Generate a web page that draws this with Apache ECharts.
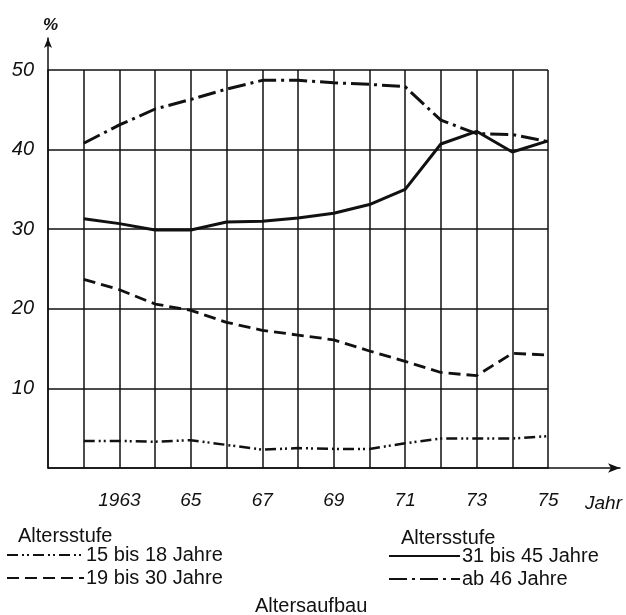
<!DOCTYPE html>
<html>
<head>
<meta charset="utf-8">
<script src="https://cdn.jsdelivr.net/npm/echarts@6/dist/echarts.min.js"></script>
<style>
  html, body { margin: 0; padding: 0; background: #fff; }
  #chart { width: 626px; height: 615px; }
</style>
</head>
<body>
<div id="chart"></div>
<script>
// Altersaufbau, Anteile in %
const years = [1962, 1963, 1964, 1965, 1966, 1967, 1968, 1969, 1970, 1971, 1972, 1973, 1974, 1975]
const age15to18 = [3.4, 3.4, 3.3, 3.5, 2.9, 2.3, 2.5, 2.4, 2.4, 3.1, 3.7, 3.7, 3.7, 4.0]
const age19to30 = [23.7, 22.4, 20.6, 19.8, 18.3, 17.3, 16.7, 16.1, 14.7, 13.4, 12.0, 11.6, 14.4, 14.2]
const age31to45 = [31.3, 30.7, 29.9, 29.9, 30.9, 31.0, 31.4, 32.0, 33.1, 35.0, 40.7, 42.3, 39.7, 41.1]
const age46plus = [40.8, 43.1, 45.1, 46.3, 47.6, 48.7, 48.7, 48.4, 48.2, 47.9, 43.7, 42.0, 41.9, 41.0]
const seriesNames = ['15 bis 18 Jahre', '19 bis 30 Jahre', '31 bis 45 Jahre', 'ab 46 Jahre']

const ink = '#111'
const numFont = { fontFamily: 'Liberation Sans', fontStyle: 'italic', color: ink }
const textFont = { fontFamily: 'Liberation Sans', fontSize: 20, fontWeight: 'normal', color: ink }

function pairs(values) {
  return years.map((y, i) => [y, values[i]])
}

function lineSeries(name, values, type, width) {
  return {
    name: name,
    type: 'line',
    data: pairs(values),
    symbol: 'none',
    silent: true,
    lineStyle: { color: ink, width: width, type: type },
    itemStyle: { color: ink }
  }
}

const legendBase = {
  orient: 'vertical',
  itemHeight: 14,
  itemGap: 3,
  padding: 0,
  selectedMode: false,
  itemStyle: { opacity: 0 },
  textStyle: { ...textFont, padding: [0, 0, 0, -3] }
}

const chart = echarts.init(document.getElementById('chart'))

chart.setOption({
  animation: false,
  backgroundColor: '#fff',
  title: [
    { text: '%', left: 38, top: 12, textStyle: { ...numFont, fontSize: 17, fontWeight: 'bold' } },
    { text: 'Jahr', left: 580, top: 489, textStyle: { ...numFont, fontSize: 19, fontWeight: 'normal' } },
    { text: 'Altersstufe', left: 13, top: 521, textStyle: textFont },
    { text: 'Altersstufe', left: 396, top: 523, textStyle: textFont },
    { text: 'Altersaufbau', left: 250, top: 591, textStyle: textFont }
  ],
  legend: [
    { ...legendBase, data: seriesNames.slice(0, 2), left: 6, top: 545, itemWidth: 77 },
    { ...legendBase, data: seriesNames.slice(2), left: 388, top: 546, itemWidth: 71 }
  ],
  grid: [
    { left: 48, right: 78, top: 70, bottom: 147 },
    // Pfeil der y-Achse
    { left: 48, width: 10, top: 38, height: 32 },
    // Pfeil der x-Achse
    { left: 548, right: 6, top: 70, bottom: 147 }
  ],
  xAxis: [
    {
      type: 'value',
      gridIndex: 0,
      min: 1961,
      max: 1975,
      interval: 1,
      axisLine: { show: true, lineStyle: { color: ink, width: 1.5 } },
      axisTick: { show: false },
      splitLine: { show: true, lineStyle: { color: ink, width: 1.5 } },
      axisLabel: {
        ...numFont,
        fontSize: 19,
        margin: 23,
        formatter: v => {
          if (v === 1963) return '1963'
          if (v > 1963 && v % 2 === 1) return String(v).slice(2)
          return ''
        }
      }
    },
    { type: 'value', gridIndex: 1, show: false },
    {
      type: 'value',
      gridIndex: 2,
      min: 0,
      max: 1,
      axisLine: { show: true, symbol: ['none', 'arrow'], symbolSize: [7, 12], lineStyle: { color: ink, width: 1.5 } },
      axisTick: { show: false },
      axisLabel: { show: false },
      splitLine: { show: false }
    }
  ],
  yAxis: [
    {
      type: 'value',
      gridIndex: 0,
      min: 0,
      max: 50,
      interval: 10,
      axisLine: { show: true, lineStyle: { color: ink, width: 1.5 } },
      axisTick: { show: false },
      splitLine: { show: true, lineStyle: { color: ink, width: 1.5 } },
      axisLabel: {
        ...numFont,
        fontSize: 20,
        margin: 14,
        formatter: v => (v === 0 ? '' : String(v))
      }
    },
    {
      type: 'value',
      gridIndex: 1,
      min: 0,
      max: 1,
      axisLine: { show: true, symbol: ['none', 'arrow'], symbolSize: [6, 10], lineStyle: { color: ink, width: 1.5 } },
      axisTick: { show: false },
      axisLabel: { show: false },
      splitLine: { show: false }
    },
    { type: 'value', gridIndex: 2, show: false }
  ],
  series: [
    lineSeries(seriesNames[0], age15to18, [11, 4, 2, 3, 2, 4], 2.5),
    lineSeries(seriesNames[1], age19to30, [12, 6], 2.8),
    lineSeries(seriesNames[2], age31to45, 'solid', 3),
    lineSeries(seriesNames[3], age46plus, [18, 5, 3, 5], 3)
  ]
})
</script>
</body>
</html>
